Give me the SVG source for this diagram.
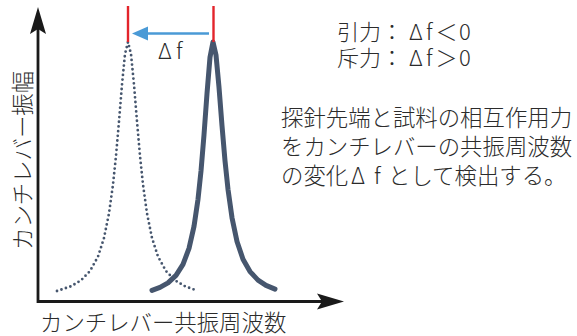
<svg xmlns="http://www.w3.org/2000/svg" width="577" height="336" viewBox="0 0 577 336">
<style>
text{font-family:"Noto Sans CJK JP","Noto Sans",sans-serif;font-weight:300;font-size:22px;fill:#2b2b2b}
.big{font-size:22.4px}
.axis{stroke:#1a1a1a;stroke-width:2.8;fill:none}
.head{fill:#1a1a1a}
.curve{fill:none;stroke:#46566e;stroke-width:5;stroke-linecap:round;stroke-linejoin:round}
.dots{fill:none;stroke:#46566e;stroke-width:2.8;stroke-linecap:round;stroke-dasharray:0 4.7}
.red{stroke:#e3242b;stroke-width:2.4}
</style>
<rect width="577" height="336" fill="#ffffff"/>
<g id="axes">
<path class="axis" d="M38 28 V301.5 H322"/>
<path class="head" d="M38 7 L46 34 L38 29 L30 34 Z"/>
<path class="head" d="M344 301.5 L317 293.5 L322 301.5 L317 309.5 Z"/>
</g>
<g id="curves">
<path class="dots" d="M57 291 L71 286.3 L81 280.3 L90 271.1 L98 256.6 L104 238 L109 213.4 L113 184.6 L116 155.9 L119 121.4 L122 84.6 L125 54.1 L128 42 L131 54.1 L134 84.6 L137 121.4 L140 155.9 L143 184.6 L147 213.4 L152 238 L158 256.6 L166 271.1 L175 280.3 L185 286.3 L196 290.2"/>
<path class="curve" d="M152 290.4 L160 287.4 L168 282.9 L176 275.4 L183 264.4 L189 248.4 L194 226.4 L198 199.3 L201 171 L204 134.9 L207 93.6 L210 57.2 L213 42 L216 55 L219 87.3 L222 125.6 L225 160.7 L228 189.3 L232 217.7 L237 241.5 L243 259.2 L250 271.6 L258 280.1 L266 285.4 L275 289.1"/>
</g>
<g id="shift">
<line class="red" x1="128" y1="6" x2="128" y2="42"/>
<line class="red" x1="213.5" y1="6" x2="213.5" y2="42"/>
<line x1="209" y1="33.5" x2="145" y2="33.5" stroke="#4a9ad6" stroke-width="2.6"/>
<path d="M132 33.5 L148 26.5 L148 40.5 Z" fill="#4a9ad6"/>
<text x="158" y="59">Δ<tspan x="176">f</tspan></text>
</g>
<g id="labels">
<text class="big" x="40" y="331">カンチレバー共振周波数</text>
<text class="big" transform="translate(31 250) rotate(-90)">カンチレバー振幅</text>
</g>
<g id="notes">
<text x="337" y="40">引力：<tspan x="409">Δ</tspan><tspan x="426">f</tspan><tspan x="435.5">＜</tspan><tspan x="459">0</tspan></text>
<text x="337" y="66">斥力：<tspan x="409">Δ</tspan><tspan x="426">f</tspan><tspan x="435.5">＞</tspan><tspan x="459">0</tspan></text>
<text class="big" x="281" y="126">探針先端と試料の相互作用力</text>
<text class="big" x="281" y="155">をカンチレバーの共振周波数</text>
<text class="big" x="281" y="184">の変化<tspan x="351">Δ</tspan><tspan x="374">f</tspan><tspan x="388">として検出する。</tspan></text>
</g>
</svg>
